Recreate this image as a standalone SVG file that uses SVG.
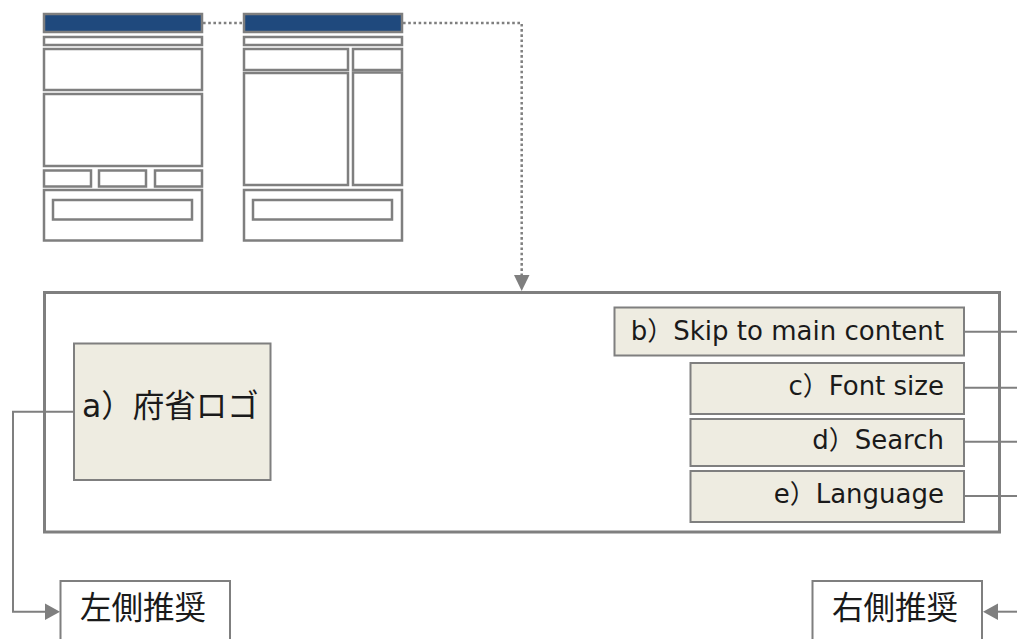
<svg xmlns="http://www.w3.org/2000/svg" width="1017" height="639" viewBox="0 0 1017 639">
  <defs>
    <style>
      .wf { fill: #ffffff; stroke: #7F7F7F; stroke-width: 2.5; }
      .hdr { fill: #1F497D; stroke: #7F7F7F; stroke-width: 2.5; }
      .frame { fill: #ffffff; stroke: #7F7F7F; stroke-width: 3; }
      .item { fill: #EEECE1; stroke: #7F7F7F; stroke-width: 2; }
      .box { fill: #ffffff; stroke: #7F7F7F; stroke-width: 2; }
      .conn { fill: none; stroke: #7F7F7F; stroke-width: 2; }
      .dot { fill: none; stroke: #7F7F7F; stroke-width: 2.5; stroke-dasharray: 2.6 2.6; }
      .head { fill: #7F7F7F; stroke: none; }
      .lbl { font-family: "DejaVu Sans", "Noto Sans CJK JP", sans-serif; font-size: 26px; fill: #1a1a1a; }
      .jp { font-family: "DejaVu Sans", "Noto Sans CJK JP", sans-serif; font-size: 31.5px; fill: #1a1a1a; }
    </style>
  </defs>

  <g id="wireframe-left">
    <rect class="hdr" x="44" y="14" width="158" height="18"/>
    <rect class="wf" x="44" y="37" width="158" height="8"/>
    <rect class="wf" x="44" y="49" width="158" height="41"/>
    <rect class="wf" x="44" y="94" width="158" height="72"/>
    <rect class="wf" x="44" y="170.5" width="47" height="16"/>
    <rect class="wf" x="99" y="170.5" width="47" height="16"/>
    <rect class="wf" x="155" y="170.5" width="47" height="16"/>
    <rect class="wf" x="44" y="190" width="158" height="50.5"/>
    <rect class="wf" x="53" y="200" width="139" height="19.5"/>
  </g>

  <g id="wireframe-right">
    <rect class="hdr" x="244" y="14" width="158" height="18"/>
    <rect class="wf" x="244" y="37" width="158" height="8"/>
    <rect class="wf" x="244" y="49" width="104" height="21"/>
    <rect class="wf" x="353" y="49" width="49" height="21"/>
    <rect class="wf" x="244" y="73" width="104" height="112"/>
    <rect class="wf" x="353" y="72.5" width="49" height="112.5"/>
    <rect class="wf" x="244" y="190" width="158" height="50.5"/>
    <rect class="wf" x="253" y="200" width="139" height="19.5"/>
  </g>

  <g id="header-frame">
    <rect class="frame" x="44.5" y="292.5" width="955" height="239.5"/>
  </g>

  <g id="logo">
    <rect class="item" x="74" y="343.5" width="196.5" height="136.5"/>
    <text class="jp" x="82" y="417">a）府省ロゴ</text>
  </g>

  <g id="skip">
    <rect class="item" x="614.5" y="307.5" width="349.5" height="48"/>
    <text class="lbl" x="944" y="339.5" text-anchor="end">b）Skip to main content</text>
  </g>

  <g id="font-size">
    <rect class="item" x="690.5" y="363" width="273.5" height="51"/>
    <text class="lbl" x="944" y="395" text-anchor="end">c）Font size</text>
  </g>

  <g id="search">
    <rect class="item" x="690.5" y="419" width="273.5" height="47"/>
    <text class="lbl" x="944" y="449" text-anchor="end">d）Search</text>
  </g>

  <g id="language">
    <rect class="item" x="690.5" y="471" width="273.5" height="51"/>
    <text class="lbl" x="944" y="503" text-anchor="end">e）Language</text>
  </g>

  <g id="left-recommend">
    <rect class="box" x="60.5" y="581" width="169.5" height="70"/>
    <text class="jp" x="80" y="619">左側推奨</text>
  </g>

  <g id="right-recommend">
    <rect class="box" x="812.5" y="581" width="169.5" height="70"/>
    <text class="jp" x="832" y="619">右側推奨</text>
  </g>

  <g id="connectors">
    <line class="dot" x1="203" y1="23" x2="243" y2="23"/>
    <polyline class="dot" points="403,23 521.7,23 521.7,276"/>
    <polygon class="head" points="514,275 529.5,275 521.7,291"/>

    <polyline class="conn" points="74,411.7 13,411.7 13,611.7 46,611.7"/>
    <polygon class="head" points="60,611.7 45,603.5 45,620"/>

    <line class="conn" x1="1017" y1="611.7" x2="997" y2="611.7"/>
    <polygon class="head" points="983,611.7 998,603.5 998,620"/>

    <line class="conn" x1="964" y1="331.7" x2="1017" y2="331.7"/>
    <line class="conn" x1="964" y1="387.7" x2="1017" y2="387.7"/>
    <line class="conn" x1="964" y1="441.7" x2="1017" y2="441.7"/>
    <line class="conn" x1="964" y1="496" x2="1017" y2="496"/>
  </g>
</svg>
